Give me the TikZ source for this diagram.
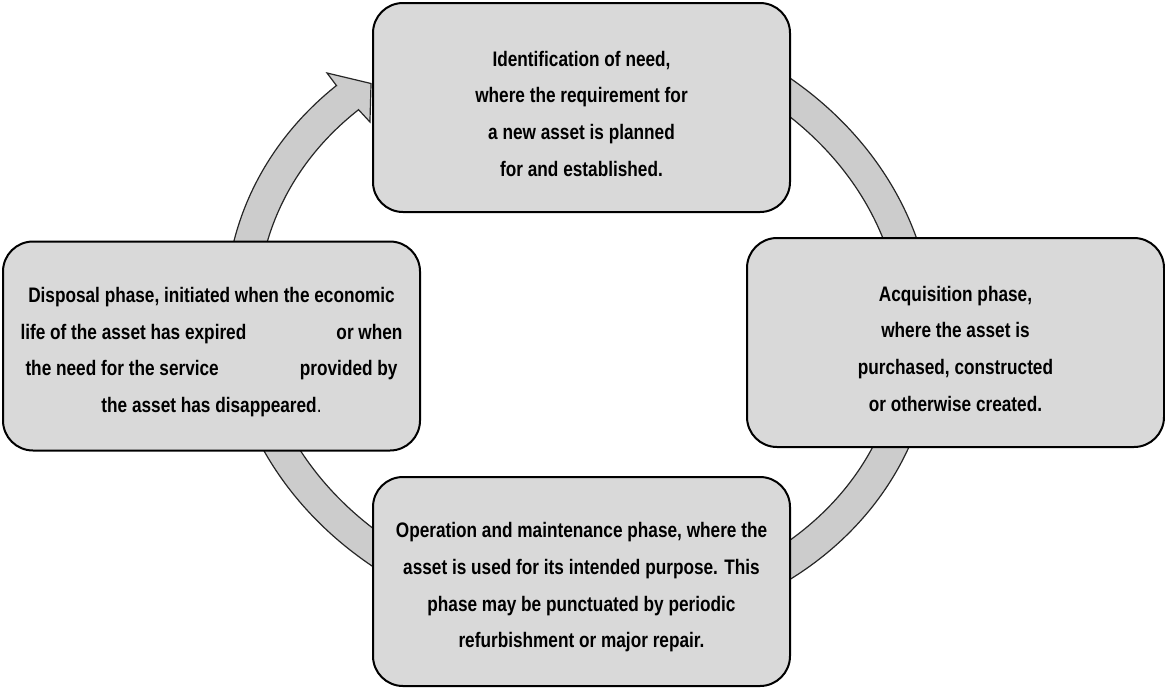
\documentclass[tikz,border=0pt]{standalone}
\usepackage[svgnames]{xcolor}
\usepackage{fontspec}
\setmainfont{Liberation Sans}[FakeStretch=0.82]
\usetikzlibrary{calc}
\definecolor{boxgray}{HTML}{D9D9D9}
\definecolor{ringgray}{HTML}{CCCCCC}

\begin{document}
\begin{tikzpicture}[x=0.75pt, y=-0.75pt,
    phase/.style={draw=black, line width=1.5pt, fill=boxgray, rounded corners=22.5pt,
      minimum width=312.75pt, minimum height=156.75pt, inner sep=0pt},
    phasetext/.style={align=center, yshift=-4.5pt,
      font=\fontsize{15.75pt}{27.5pt}\selectfont\bfseries},
    ring/.style={draw=black!85, line width=0.9pt, fill=ringgray}]
    \useasboundingbox (0,0) rectangle (1165,687);
    % the cycle arrow, drawn first so the boxes sit on it
    \begin{scope}[shift={(579.5,321)}, xslant=-0.047]
    \draw[ring] (229:353.6 and 312) -- (-240.8,-248) -- (-197.3,-237.5) -- (-200.2,-199) -- (229:321.6 and 280)
      arc[start angle=229, end angle=-100, x radius=321.6, y radius=280]
      -- (-100:353.6 and 312) arc[start angle=-100, end angle=229, x radius=353.6, y radius=312] -- cycle;
    \end{scope}
    \node[phase, label={[phasetext]center:{Identification of need,\\ where the requirement for\\ a new asset is planned\\ for and established.}}] (need) at (581.5,107.5) {};
    \node[phase, label={[phasetext]center:{Acquisition phase,\\ where the asset is\\ purchased, constructed\\ or otherwise created.}}] (acquire) at (955.5,342.5) {};
    \node[phase, label={[phasetext]center:{Operation and maintenance phase, where the\\ asset is used for its intended purpose. This\\ phase may be punctuated by periodic\\ refurbishment or major repair.}}] (operate) at (581.5,581.5) {};
    \node[phase, label={[phasetext]center:{Disposal phase, initiated when the economic\\
      \makebox[286.5pt]{life of the asset has expired\hfill or when}\\
      \makebox[279pt]{the need for the service\hfill provided by}\\
      the asset has disappeared{\mdseries .}}}] (dispose) at (211.5,346) {}; % odd gaps as in the source
\end{tikzpicture}
\end{document}
